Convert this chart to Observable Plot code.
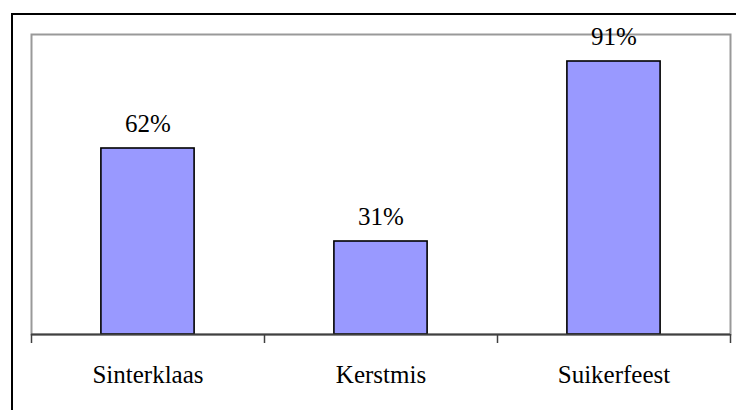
<!DOCTYPE html>
<html>
<head>
<meta charset="utf-8">
<script src="https://cdn.jsdelivr.net/npm/d3@7"></script>
<script src="https://cdn.jsdelivr.net/npm/@observablehq/plot@0.6"></script>
<style>
  html, body { margin: 0; padding: 0; background: #fff; overflow: hidden; }
  #wrap { position: relative; width: 736px; height: 410px; }
  #wrap svg { position: absolute; left: 0; top: 0; }
  #wrap svg text { font-family: "Liberation Serif", "Times New Roman", serif !important; fill: #000; }
  #border { position: absolute; left: 11px; top: 13px; width: 800px; height: 500px;
            border-left: 2px solid #000; border-top: 2px solid #000; pointer-events: none; }
</style>
</head>
<body>
<div id="wrap"><div id="border"></div></div>
<script>
const categories = ["Sinterklaas", "Kerstmis", "Suikerfeest"];
const values = [0.62, 0.31, 0.91];
const boundaryTicks = [0, 1, 2, 3];

const data = categories.map((c, i) => ({category: c, index: i, value: values[i]}));
const fmt = d3.format(".0%");
const font = "Liberation Serif";

const chart = Plot.plot({
  width: 736,
  height: 410,
  marginLeft: 31,
  marginRight: 6,
  marginTop: 34,
  marginBottom: 76,
  style: {background: "transparent", fontFamily: font, fontSize: "25px", overflow: "visible"},
  x: {type: "linear", domain: [0, 3], axis: null},
  y: {domain: [0, 1], axis: null},
  marks: [
    Plot.frame({stroke: "#999", strokeWidth: 2}),
    Plot.rectY(data, {
      x1: d => d.index + 0.3,
      x2: d => d.index + 0.7,
      y: "value",
      fill: "#9999FF",
      stroke: "#000",
      strokeWidth: 1.6
    }),
    Plot.ruleY([0], {stroke: "#404040", strokeWidth: 2}),
    Plot.axisX({ticks: boundaryTicks, tickSize: 9, tickFormat: () => "", stroke: "#404040", strokeWidth: 1.5}),
    Plot.text(data, {
      x: d => d.index + 0.5,
      y: "value",
      text: d => fmt(d.value),
      lineAnchor: "bottom",
      dy: -17,
      fontSize: 25,
      fill: "#000",
      fontFamily: font
    }),
    Plot.text(data, {
      x: d => d.index + 0.5,
      y: 0,
      text: "category",
      lineAnchor: "bottom",
      dy: 48,
      fontSize: 25,
      fill: "#000",
      fontFamily: font
    })
  ]
});
document.getElementById("wrap").prepend(chart);
</script>
</body>
</html>
